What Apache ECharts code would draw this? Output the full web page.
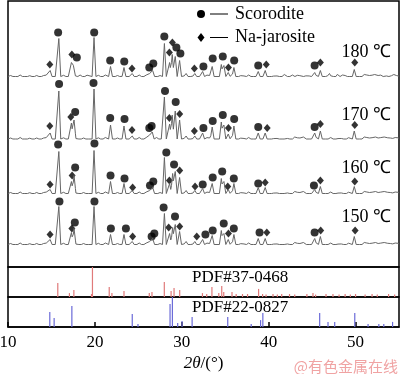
<!DOCTYPE html>
<html><head><meta charset="utf-8">
<script src="https://cdn.jsdelivr.net/npm/echarts@6/dist/echarts.min.js"></script>
<style>html,body{margin:0;padding:0;background:#fff}#c{width:400px;height:374px}</style>
</head><body><div id="c"></div><script>
// ---------- data ----------
const xTicks = [10, 20, 30, 40, 50];
const traceLabels = ['180 ℃', '170 ℃', '160 ℃', '150 ℃'];

// peaks: [2θ, height]
const peaks180 = [[14.85,6],[15.85,38],[17.3,14],[17.55,13],[19.9,39],[21.8,10],[23.35,9],[24.3,3],[26.3,3],[26.65,6],[28.0,33],[28.6,14],[28.9,22],[29.25,20],[29.75,16],[30.5,3],[31.5,3],[32.4,5],[33.5,10],[34.55,12],[34.85,11],[35.35,4],[36.0,9],[37.0,2],[38.8,5],[39.6,6],[40.8,2],[41.8,2],[42.8,2],[43.8,2],[44.5,2],[45.3,4],[45.95,6],[47.0,2],[48.0,2],[49.85,7],[51.0,2],[52.2,2],[53.4,2],[54.4,2]];
const peaks170 = [[14.85,6],[15.85,48],[17.3,16],[17.6,19],[19.9,50],[21.8,14],[23.35,13],[24.3,3],[26.3,4],[26.6,7],[28.0,42],[28.6,15],[28.9,24],[29.25,28],[29.75,19],[30.5,3],[31.5,3],[32.4,6],[33.5,12],[34.55,17],[34.85,14],[35.35,5],[36.0,13],[37.0,2],[38.8,6],[39.6,6],[40.8,2],[42.0,2],[43.0,2],[44.0,2],[45.3,6],[45.95,8],[47.2,2],[48.2,2],[49.85,8],[51.0,2],[52.3,2],[53.3,2],[54.5,2]];
const peaks160 = [[14.85,4],[15.85,42],[17.3,12],[17.6,18],[19.9,43],[21.8,12],[23.35,10],[24.3,3],[26.3,3],[26.65,6],[28.0,36],[28.6,10],[28.95,20],[29.25,22],[29.75,16],[30.5,3],[31.5,3],[32.4,5],[33.5,10],[34.55,15],[34.85,12],[35.35,4],[36.0,10],[37.0,2],[38.8,6],[39.6,6],[40.8,2],[42.0,2],[43.0,2],[44.0,2],[45.3,4],[45.95,7],[47.2,2],[48.2,2],[49.85,7],[51.0,2],[52.3,2],[53.3,2],[54.5,2]];
const peaks150 = [[14.85,5],[15.85,38],[17.3,12],[17.6,16],[19.9,38],[21.8,10],[23.35,10],[24.3,3],[26.3,3],[26.65,6],[28.0,31],[28.6,11],[28.95,17],[29.25,20],[29.75,13],[30.5,3],[31.5,3],[32.4,5],[33.5,9],[34.55,14],[34.85,11],[35.35,5],[36.0,10],[37.0,2],[38.8,6],[39.6,6],[40.8,2],[42.0,2],[43.0,2],[44.0,2],[45.3,6],[45.95,8],[47.2,2],[48.2,2],[49.85,8],[51.0,2],[52.3,2],[53.3,2],[54.5,2]];
// small background wiggles (read as tiny bumps on every trace)
const ripple = [[10.3,1],[10.7,1.5],[11.0,0.8],[11.4,1.5],[11.8,1],[12.1,1.8],[12.5,0.8],[12.9,1.5],[13.3,1],[13.7,1.6],[14.1,1],[14.4,1.4],[15.3,1],[16.4,1.2],[16.8,1],[17.9,1],[18.3,1.5],[18.7,1],[19.1,1.3],[20.4,1.2],[20.8,1],[21.2,1.5],[22.2,1.2],[22.6,1],[23.0,1.4],[23.8,1],[24.7,1.2],[25.1,1.5],[25.5,1],[25.9,1.4],[27.1,1.5],[27.5,1],[30.2,1.4],[30.9,1.5],[31.2,1],[31.9,1.2],[32.9,1.4],[33.2,1],[35.7,1.2],[36.4,1.5],[36.8,1],[37.3,1.4],[37.7,1.5],[38.1,1],[38.4,1.2],[39.2,1],[40.2,1.5],[40.5,1],[41.1,1.3],[41.4,1],[42.3,1.5],[42.6,1],[43.3,1.2],[43.6,1],[44.2,1.5],[44.8,1],[45.6,1],[46.4,1.3],[46.7,1.5],[47.0,1],[47.6,1.3],[47.9,1],[48.5,1.5],[48.8,1],[49.2,1.3],[50.3,1.2],[50.6,1],[51.3,1.5],[51.6,1],[51.9,1.3],[52.6,1],[52.9,1.4],[53.7,1.2],[54.0,1],[54.2,1.4],[54.7,1],[54.9,1.2]];

// phase markers: [2θ, height above trace baseline]
const scor180 = [[15.77,44],[17.92,19],[19.92,44],[21.76,16],[23.38,15],[26.26,9],[26.72,13],[27.99,40],[29.38,29],[29.84,23],[32.49,10],[33.56,18],[34.72,20],[36.03,16],[38.80,11],[45.29,11]];
const jaro180 = [[14.81,12],[17.35,22],[24.27,8],[28.57,24],[28.92,34],[31.45,8],[35.37,9],[39.72,12],[45.95,14],[49.91,14]];
const scor170 = [[15.88,55],[17.73,27],[19.84,56],[21.76,21],[23.41,20],[26.26,11],[26.53,13],[28.07,48],[29.3,37],[32.49,11],[33.56,18],[34.72,24],[36.03,20],[38.80,12],[45.29,12]];
const jaro170 = [[14.81,13],[17.23,22],[24.27,9],[28.57,21],[29.76,25],[31.45,8],[35.37,11],[39.83,11],[45.95,15],[49.91,14]];
const scor160 = [[15.77,49],[17.73,26],[19.95,50],[21.80,18],[23.41,15],[26.34,8],[26.72,12],[28.22,41],[29.11,29],[32.41,9],[33.56,16],[34.65,22],[35.99,15],[38.80,10],[45.21,8]];
const jaro160 = [[14.84,9],[17.38,18],[24.34,6],[28.57,13],[29.76,23],[31.53,7],[35.29,7],[39.60,11],[45.95,13],[49.91,12]];
const scor150 = [[15.92,43],[17.69,22],[19.95,43],[21.84,16],[23.57,16],[26.53,8],[26.84,11],[27.91,37],[29.22,28],[32.72,10],[33.56,14],[34.83,21],[35.99,16],[38.95,12],[45.29,12]];
const jaro150 = [[14.84,10],[17.35,16],[24.34,8],[28.49,17],[29.76,18],[31.72,8],[35.37,11],[39.79,12],[45.99,14],[49.95,14]];

// reference sticks: [2θ, relative intensity %]
const pdf370468 = [[15.73,47],[17.07,13],[17.58,23],[19.61,10],[19.72,100],[21.65,33],[21.96,13],[23.35,20],[26.26,13],[26.57,17],[27.99,50],[28.77,20],[29.11,30],[29.76,23],[32.38,13],[32.87,10],[33.47,33],[34.26,13],[34.60,37],[34.83,17],[35.78,17],[36.26,10],[36.99,10],[37.57,10],[38.84,27],[39.3,10],[39.7,8],[40.5,10],[41.0,8],[41.5,10],[42.4,10],[43.0,8],[44.4,10],[45.1,13],[45.4,8],[46.6,10],[47.4,10],[48.1,8],[48.8,10],[49.4,8],[50.0,10],[51.1,8],[51.9,10],[52.5,8],[53.8,10],[54.5,8]];
const pdf220827 = [[14.81,50],[15.31,30],[17.35,70],[24.30,43],[24.96,10],[28.65,77],[28.92,100],[29.53,13],[30.03,20],[31.19,33],[35.29,33],[37.99,10],[39.07,23],[39.33,47],[45.87,47],[46.83,17],[47.60,17],[49.91,47],[51.44,10],[52.68,10],[53.25,10],[54.26,17]];
const pdfLabels = ['PDF#37-0468', 'PDF#22-0827'];
const legendNames = ['Scorodite', 'Na-jarosite'];

// ---------- layout / style ----------
const traceOffsets = [190.5, 128, 73.5, 22.5]; // baseline levels in main panel units
const HALF = 0.22, RHALF = 0.14;
const FONT = '"Liberation Serif","Times New Roman",serif';

function profile(peaks) {
  const all = peaks.map(p => [p[0], p[1], HALF]).concat(ripple.map(p => [p[0], p[1], RHALF]));
  let xs = [10, 55];
  all.forEach(p => xs.push(p[0] - p[2], p[0], p[0] + p[2]));
  xs = xs.filter(x => x >= 10 && x <= 55).sort((a, b) => a - b);
  return xs.map(x => {
    let y = 0;
    all.forEach(p => { const d = Math.abs(x - p[0]); if (d < p[2]) y += p[1] * (1 - d / p[2]); });
    return [x, y];
  });
}
const traces = [peaks180, peaks170, peaks160, peaks150];
const scorSets = [scor180, scor170, scor160, scor150];
const jaroSets = [jaro180, jaro170, jaro160, jaro150];

const series = [];
traces.forEach((pk, i) => {
  series.push({
    type: 'line', xAxisIndex: 0, yAxisIndex: 0, showSymbol: false, animation: false,
    data: profile(pk).map(d => [d[0], d[1] + traceOffsets[i]]),
    lineStyle: { width: 1, color: '#666' }
  });
  series.push({
    type: 'scatter', xAxisIndex: 0, yAxisIndex: 0, symbol: 'circle', symbolSize: 8, animation: false,
    itemStyle: { color: '#000' }, data: scorSets[i].map(d => [d[0], d[1] + traceOffsets[i]])
  });
  series.push({
    type: 'scatter', xAxisIndex: 0, yAxisIndex: 0, symbol: 'diamond', symbolSize: [7, 8], animation: false,
    itemStyle: { color: '#000' }, data: jaroSets[i].map(d => [d[0], d[1] + traceOffsets[i]])
  });
});
function sticks(data, idx, color) {
  return {
    type: 'custom', xAxisIndex: idx, yAxisIndex: idx, animation: false, data: data,
    encode: { x: 0, y: 1 },
    renderItem: (params, api) => {
      const a = api.coord([api.value(0), 0]);
      const b = api.coord([api.value(0), api.value(1)]);
      return { type: 'line', shape: { x1: a[0], y1: a[1], x2: b[0], y2: b[1] }, style: { stroke: color, lineWidth: 1.2 } };
    }
  };
}
series.push(sticks(pdf370468, 1, '#e07a7a'));
series.push(sticks(pdf220827, 2, '#6b6bd8'));

const gridBase = { left: 8, right: 1, show: true, borderColor: '#000', borderWidth: 1.5, backgroundColor: 'transparent', containLabel: false, outerBoundsMode: 'none' };
const hiddenX = (i) => ({ type: 'value', gridIndex: i, min: 10, max: 55, interval: 10, show: false, splitLine: { show: false } });
const tempY = [52, 115, 168, 217];

const option = {
  backgroundColor: '#fff',
  animation: false,
  grid: [
    Object.assign({ top: 1, height: 266 }, gridBase),
    Object.assign({ top: 267, height: 30 }, gridBase),
    Object.assign({ top: 297, height: 30 }, gridBase)
  ],
  xAxis: [hiddenX(0), hiddenX(1), {
    type: 'value', gridIndex: 2, min: 10, max: 55, interval: 10,
    axisLine: { show: true, lineStyle: { color: '#000', width: 1.5 } },
    axisTick: { show: true, inside: true, length: 5, lineStyle: { color: '#000', width: 1.5 } },
    axisLabel: { show: true, margin: 7, fontSize: 17, fontFamily: FONT, color: '#000', showMaxLabel: false,
      formatter: v => xTicks.indexOf(v) >= 0 ? String(v) : '' },
    splitLine: { show: false },
    name: '{i|2θ}/(°)', nameLocation: 'middle', nameGap: 28,
    nameTextStyle: { fontSize: 17, fontFamily: FONT, color: '#000', rich: { i: { fontStyle: 'italic', fontSize: 17, fontFamily: FONT, color: '#000' } } }
  }],
  yAxis: [
    { type: 'value', gridIndex: 0, min: 0, max: 266, show: false, splitLine: { show: false } },
    { type: 'value', gridIndex: 1, min: 0, max: 100, show: false, splitLine: { show: false } },
    { type: 'value', gridIndex: 2, min: 0, max: 100, show: false, splitLine: { show: false } }
  ],
  series: series,
  graphic: [
    { type: 'circle', shape: { cx: 201, cy: 14, r: 4 }, style: { fill: '#000' } },
    { type: 'line', shape: { x1: 210, y1: 14, x2: 228, y2: 14 }, style: { stroke: '#000', lineWidth: 1 } },
    { type: 'text', x: 235, y: 14, style: { text: legendNames[0], font: '18px ' + FONT, fill: '#000', verticalAlign: 'middle' } },
    { type: 'polygon', shape: { points: [[201, 33], [204.5, 37.5], [201, 42], [197.5, 37.5]] }, style: { fill: '#000' } },
    { type: 'line', shape: { x1: 210, y1: 37.5, x2: 228, y2: 37.5 }, style: { stroke: '#000', lineWidth: 1 } },
    { type: 'text', x: 235, y: 37.5, style: { text: legendNames[1], font: '18px ' + FONT, fill: '#000', verticalAlign: 'middle' } }
  ].concat(traceLabels.map((t, i) => ({
    type: 'text', x: 391, y: tempY[i], style: { text: t, font: '18px ' + FONT, fill: '#000', align: 'right', verticalAlign: 'middle' }
  }))).concat(pdfLabels.map((t, i) => ({
    type: 'text', x: 192, y: [278, 308][i], style: { text: t, font: '17px ' + FONT, fill: '#000', align: 'left', verticalAlign: 'middle' }
  }))).concat([
    { type: 'text', x: 398, y: 366, style: { text: '@有色金属在线', font: '15px "Noto Sans CJK SC"', fill: '#f0a3a3', align: 'right', verticalAlign: 'middle' } }
  ])
};
const chart = echarts.init(document.getElementById('c'), null, { renderer: 'canvas' });
chart.setOption(option);
</script></body></html>
